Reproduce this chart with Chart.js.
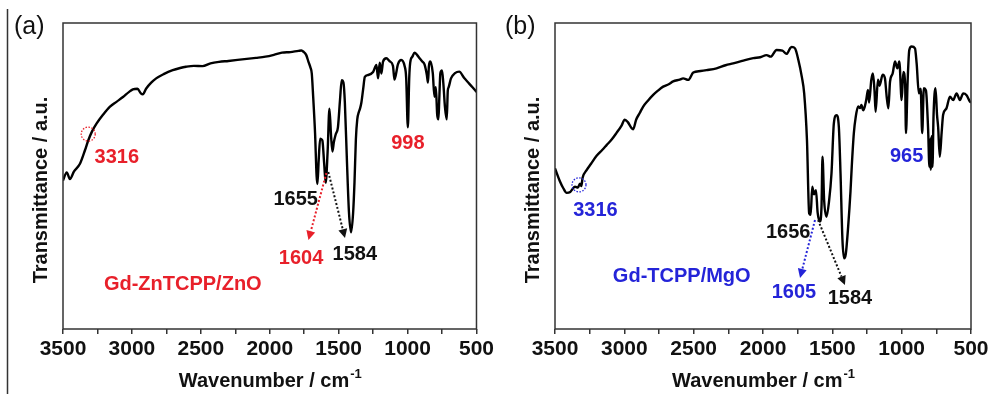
<!DOCTYPE html>
<html>
<head>
<meta charset="utf-8">
<script src="https://cdn.jsdelivr.net/npm/chart.js@4"></script>
<style>
  html, body { margin: 0; padding: 0; background: #fff; }
  #wrap { position: relative; width: 994px; height: 394px; overflow: hidden; }
  .panel { position: absolute; top: 0; width: 497px; height: 394px; }
</style>
</head>
<body>
<div id="wrap">
  <div class="panel" style="left:0"><canvas id="chartA"></canvas></div>
  <div class="panel" style="left:497px"><canvas id="chartB"></canvas></div>
</div>
<script>
// wavenumber axis labels (cm-1)
const xTickLabels = [3500, 3000, 2500, 2000, 1500, 1000, 500];

// (a) Gd-ZnTCPP/ZnO spectrum, transmittance in arbitrary units (0-100 = frame bottom-top)
const waveA = [3500,3473,3450,3420,3377,3340,3317,3290,3257,3210,
  3161,3110,3065,3020,2993,2960,2935,2921,2896,2860,
  2824,2770,2704,2650,2608,2550,2488,2430,2368,2300,
  2200,2100,2031,1970,1911,1850,1791,1770,1755,1735,
  1719,1705,1695,1685,1671,1660,1654,1645,1634,1625,
  1618,1605,1594,1580,1567,1555,1545,1535,1522,1505,
  1490,1478,1465,1455,1440,1425,1410,1395,1385,1375,
  1365,1353,1345,1335,1322,1310,1286,1250,1226,1214,
  1202,1190,1178,1154,1130,1106,1095,1070,1046,1022,
  1010,998,988,981,965,949,930,913,895,877,
  860,852,845,835,817,805,795,785,776,770,
  762,750,740,729,716,708,702,685,656,625,
  589,565,529,500];
const transA = [48.5,51.2,49.0,51.5,54.0,58.5,61.6,64.5,67.1,70.0,
  72.6,74.3,75.8,77.5,78.3,78.5,77.0,76.7,78.6,80.5,
  81.9,83.3,84.6,85.3,85.7,86.0,85.9,86.8,87.3,87.6,
  88.1,88.6,89.0,89.6,90.3,90.5,90.9,91.0,90.6,89.5,
  87.3,85.5,83.5,76,63.8,50,47.4,55,62.2,62.0,
  61.6,54,47.8,58,72.0,63,58.0,61,63.5,66,
  75,81.3,80.5,74,55,38,31.6,38,48,62,
  68.5,71,72,74,78.5,82.4,83,84,86.3,81.9,
  87,83.5,87.4,88.5,87.5,86,81.5,86.5,87.9,86,
  82,65.9,82,87,89,90.3,89.5,88.5,87.5,86.5,
  83,80.5,86,87.4,83.6,75.9,79,70,68.5,75,
  83.6,84.5,80,72.7,68.5,78,79,81.9,83.6,84.1,
  82,80.8,79,77.5];

// (b) Gd-TCPP/MgO spectrum
const waveB = [3500,3464,3440,3416,3390,3356,3335,3320,3310,3301,
  3272,3240,3200,3160,3128,3090,3056,3020,2997,2975,
  2950,2936,2915,2890,2864,2830,2792,2760,2720,2680,
  2648,2600,2576,2539,2503,2450,2407,2335,2270,2215,
  2150,2070,2020,1974,1945,1902,1860,1830,1805,1793,
  1769,1745,1720,1703,1683,1667,1656,1645,1632,1618,
  1606,1590,1578,1571,1559,1542,1523,1506,1489,1470,
  1453,1441,1427,1415,1403,1386,1369,1360,1345,1331,
  1314,1300,1290,1278,1266,1255,1243,1235,1219,1207,
  1196,1188,1171,1160,1137,1121,1108,1096,1084,1065,
  1048,1031,1017,1000,988,975,969,957,945,928,
  904,892,876,863,852,840,825,809,800,795,
  790,785,778,770,756,745,737,725,712,701,
  677,652,628,604,580,556,532,508,500];
const transB = [52.5,48.2,46,44.5,44.8,46.5,46.2,47.5,46.7,49.4,
  51.9,54,56.6,58.5,60.1,62,64.1,66.5,68.4,67.6,
  65.8,65.3,68.4,70.5,72.7,74.6,76.5,77.8,79.2,80.0,
  80.9,81.5,81.9,81.4,83.8,84.3,84.6,85.2,86.2,86.8,
  87.6,88.5,88.8,89.5,89.0,91.2,91.0,89.9,91.7,92.2,
  91.7,87.9,82.4,77,61.8,37.8,37.3,46.5,44,45.4,
  38,35.1,40,56.3,42,36.7,42,50.9,67.2,69.9,
  66,50.9,29.1,23.1,24.5,33.4,45,53,63.9,69.4,
  72.7,72.2,73.2,71.5,72.7,75,78.1,74,81.4,83.5,
  78,71,81.5,79.5,83.1,82,75.9,72.1,80.8,83.5,
  87.4,85.2,87.4,74.8,84,80,64,81,91.2,92.3,
  91.7,86.8,77,78.5,64,78.7,78,65,53,62,
  52,63,53,70,78.7,70,66,56.3,64,70,
  72.1,75.9,74.8,77,74.8,77,76.4,74.3,74];

const RED = '#e8202a';
const BLUE = '#2424d8';
const INK = '#111';

// peak labels: [text, wavenumber, value, colour]
const labelsA = [
  ['3316', 3110, 56, RED],
  ['998', 998, 60.5, RED],
  ['1655', 1812, 42.2, INK],
  ['1604', 1773, 23.2, RED],
  ['1584', 1383, 24.2, INK],
  ['Gd-ZnTCPP/ZnO', 2631, 14.7, RED]
];
const circlesA = [[3317, 63.7, RED]];
const arrowsA = [
  [1589, 51, 1719, 29.1, RED],
  [1575, 51.3, 1454, 29.7, INK]
];

const labelsB = [
  ['3316', 3208, 38.6, BLUE],
  ['965', 964, 56.5, BLUE],
  ['1656', 1818, 31.7, INK],
  ['1605', 1777, 11.8, BLUE],
  ['1584', 1373, 10.1, INK],
  ['Gd-TCPP/MgO', 2586, 17, BLUE]
];
const circlesB = [[3327, 47.1, BLUE]];
const arrowsB = [
  [1625, 35.6, 1733, 16.7, BLUE],
  [1603, 35.6, 1409, 14.4, INK]
];

const FONT = '"Liberation Sans", Arial, sans-serif';

function dottedArrow(ctx, x1, y1, x2, y2, color) {
  const ang = Math.atan2(y2 - y1, x2 - x1);
  const head = 9, half = 4.5;
  const bx = x2 - head * Math.cos(ang), by = y2 - head * Math.sin(ang);
  ctx.save();
  ctx.strokeStyle = color;
  ctx.lineWidth = 2;
  ctx.setLineDash([2, 2]);
  ctx.beginPath();
  ctx.moveTo(x1, y1);
  ctx.lineTo(bx, by);
  ctx.stroke();
  ctx.setLineDash([]);
  ctx.fillStyle = color;
  ctx.beginPath();
  ctx.moveTo(x2, y2);
  ctx.lineTo(bx + half * Math.sin(ang), by - half * Math.cos(ang));
  ctx.lineTo(bx - half * Math.sin(ang), by + half * Math.cos(ang));
  ctx.closePath();
  ctx.fill();
  ctx.restore();
}

function decorations(p) {
  return {
    id: 'decor',
    afterDraw(chart) {
      const { ctx, chartArea: a, scales: { x, y } } = chart;
      ctx.save();
      // box frame
      ctx.strokeStyle = '#333';
      ctx.lineWidth = 1.5;
      ctx.strokeRect(a.left, a.top, a.right - a.left, a.bottom - a.top);
      if (p.edge) {
        ctx.beginPath();
        ctx.moveTo(7.5, 9);
        ctx.lineTo(7.5, 394);
        ctx.stroke();
      }
      // panel letter
      ctx.fillStyle = INK;
      ctx.font = '25px ' + FONT;
      ctx.textAlign = 'left';
      ctx.textBaseline = 'middle';
      ctx.fillText(p.letter, p.letterX, 27);
      // y title
      ctx.save();
      ctx.translate(a.left - 21.5, 190);
      ctx.rotate(-Math.PI / 2);
      ctx.font = 'bold 20px ' + FONT;
      ctx.textAlign = 'center';
      ctx.fillText('Transmittance / a.u.', 0, 0);
      ctx.restore();
      // x title with superscript
      ctx.textBaseline = 'alphabetic';
      ctx.font = 'bold 20px ' + FONT;
      const main = 'Wavenumber / cm';
      const wMain = ctx.measureText(main).width;
      ctx.font = 'bold 13px ' + FONT;
      const wSup = ctx.measureText('-1').width;
      const sx = (a.left + a.right) / 2 - (wMain + wSup) / 2;
      ctx.font = 'bold 20px ' + FONT;
      ctx.fillText(main, sx, 387);
      ctx.font = 'bold 13px ' + FONT;
      ctx.fillText('-1', sx + wMain + 1, 378);
      // peak labels
      ctx.font = 'bold 20px ' + FONT;
      ctx.textAlign = 'center';
      ctx.textBaseline = 'middle';
      p.labels.forEach(([t, w, v, c]) => {
        ctx.fillStyle = c;
        ctx.fillText(t, x.getPixelForValue(w), y.getPixelForValue(v));
      });
      // dotted circles
      p.circles.forEach(([w, v, c]) => {
        ctx.strokeStyle = c;
        ctx.lineWidth = 1.3;
        ctx.setLineDash([1.5, 1.5]);
        ctx.beginPath();
        ctx.arc(x.getPixelForValue(w), y.getPixelForValue(v), 7, 0, Math.PI * 2);
        ctx.stroke();
      });
      ctx.setLineDash([]);
      p.arrows.forEach(([w1, v1, w2, v2, c]) => {
        dottedArrow(ctx, x.getPixelForValue(w1), y.getPixelForValue(v1),
          x.getPixelForValue(w2), y.getPixelForValue(v2), c);
      });
      ctx.restore();
    }
  };
}

function makePanel(id, waves, values, p) {
  return new Chart(document.getElementById(id), {
    type: 'line',
    data: {
      datasets: [{
        data: waves.map((w, i) => ({ x: w, y: values[i] })),
        borderColor: '#000',
        borderWidth: 2.4,
        pointRadius: 0,
        cubicInterpolationMode: 'monotone',
        borderJoinStyle: 'round',
        fill: false
      }]
    },
    options: {
      responsive: true,
      maintainAspectRatio: false,
      animation: false,
      layout: { padding: { top: 23, right: p.right, left: 0, bottom: 0 } },
      plugins: { legend: { display: false }, tooltip: { enabled: false } },
      scales: {
        x: {
          type: 'linear',
          reverse: true,
          min: xTickLabels[xTickLabels.length - 1],
          max: xTickLabels[0],
          border: { display: false },
          grid: { display: true, drawOnChartArea: false, drawTicks: true, tickLength: 5, color: '#333', lineWidth: 1.5 },
          ticks: {
            stepSize: 250,
            autoSkip: false,
            maxRotation: 0,
            padding: 3,
            color: INK,
            font: { family: FONT, size: 21, weight: 'bold' },
            callback: v => xTickLabels.includes(v) ? String(v) : ''
          },
          afterFit(s) { s.height = 65; }
        },
        y: {
          min: 0,
          max: 100,
          ticks: { display: false },
          grid: { display: false },
          border: { display: false },
          afterFit(s) { s.width = p.left; }
        }
      }
    },
    plugins: [decorations(p)]
  });
}

makePanel('chartA', waveA, transA, {
  left: 63, right: 18, letter: '(a)', letterX: 14, edge: true,
  labels: labelsA, circles: circlesA, arrows: arrowsA
});
makePanel('chartB', waveB, transB, {
  left: 58, right: 23, letter: '(b)', letterX: 8, edge: false,
  labels: labelsB, circles: circlesB, arrows: arrowsB
});
</script>
</body>
</html>
